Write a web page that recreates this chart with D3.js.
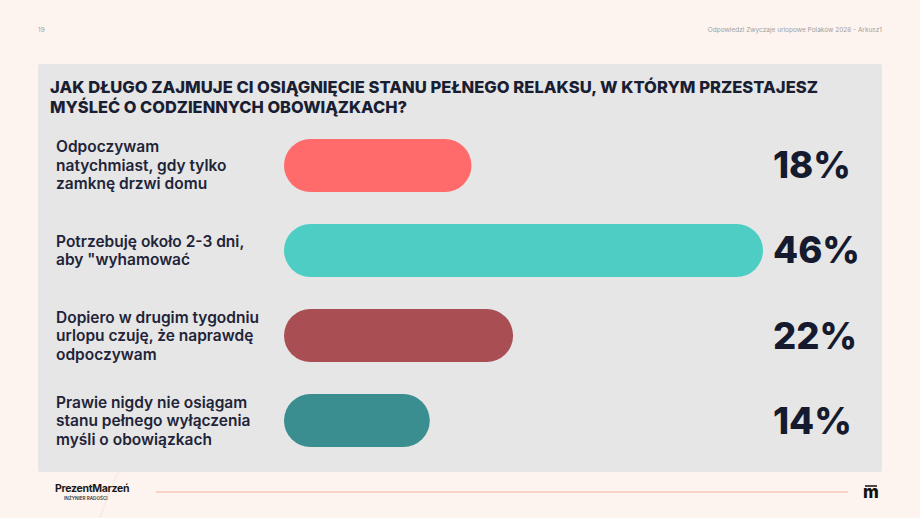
<!DOCTYPE html>
<html>
<head>
<meta charset="utf-8">
<script src="https://cdn.jsdelivr.net/npm/d3@7"></script>
<style>
  html, body { margin: 0; padding: 0; background: #fdf4ef; }
  svg { display: block; font-family: Inter, "Noto Sans", sans-serif; }
</style>
</head>
<body>
<svg id="chart"></svg>
<script>
// chart data
var categories = [
  ["Odpoczywam", "natychmiast, gdy tylko", "zamknę drzwi domu"],
  ["Potrzebuję około 2-3 dni,", "aby \"wyhamować"],
  ["Dopiero w drugim tygodniu", "urlopu czuję, że naprawdę", "odpoczywam"],
  ["Prawie nigdy nie osiągam", "stanu pełnego wyłączenia", "myśli o obowiązkach"]
];
var values = [18, 46, 22, 14];
var colors = ["#ff6b6b", "#4ecdc4", "#a94f54", "#3a8e8f"];
var titleLines = [
  "JAK DŁUGO ZAJMUJE CI OSIĄGNIĘCIE STANU PEŁNEGO RELAKSU, W KTÓRYM PRZESTAJESZ",
  "MYŚLEĆ O CODZIENNYCH OBOWIĄZKACH?"
];

var width = 920,
    height = 518;

var svg = d3.select('#chart')
    .attr('width', width)
    .attr('height', height);

svg.append('rect')
    .attr('width', width)
    .attr('height', height)
    .attr('fill', '#fdf4ef');

// faint decorative curve
svg.append('path')
    .attr('d', 'M100,518 C115,470 140,430 170,400')
    .attr('fill', 'none')
    .attr('stroke', '#f6ebe6')
    .attr('stroke-width', 1.5);

// header
svg.append('text')
    .attr('x', 38).attr('y', 32)
    .attr('font-size', 6.5)
    .attr('fill', '#a0a0a0')
    .text('19');

svg.append('text')
    .attr('x', 882).attr('y', 32)
    .attr('text-anchor', 'end')
    .attr('font-size', 6.5)
    .attr('fill', '#a0a0a0')
    .text('Odpowiedzi Zwyczaje urlopowe Polaków 2026 - Arkusz1');

// panel
svg.append('rect')
    .attr('x', 38).attr('y', 64)
    .attr('width', 844).attr('height', 408)
    .attr('rx', 2)
    .attr('fill', '#e6e6e6');

// title
svg.append('text')
    .attr('x', 50).attr('y', 93)
    .attr('font-size', 16.5)
    .attr('font-weight', 800)
    .attr('fill', '#1a1e33')
    .attr('textLength', 768)
    .attr('lengthAdjust', 'spacingAndGlyphs')
    .text(titleLines[0]);

svg.append('text')
    .attr('x', 50).attr('y', 113)
    .attr('font-size', 16.5)
    .attr('font-weight', 800)
    .attr('fill', '#1a1e33')
    .attr('textLength', 357)
    .attr('lengthAdjust', 'spacingAndGlyphs')
    .text(titleLines[1]);

// scales
var y = d3.scaleBand()
    .domain(d3.range(values.length))
    .range([139, 447])
    .paddingInner(0.378)
    .paddingOuter(0);

var x = d3.scaleLinear()
    .domain([0, 46])
    .range([284, 763]);

var rows = svg.selectAll('g.row')
    .data(values)
    .enter().append('g')
    .attr('class', 'row');

rows.append('rect')
    .attr('x', x(0))
    .attr('y', function(d, i) { return y(i); })
    .attr('width', function(d) { return x(d) - x(0); })
    .attr('height', y.bandwidth())
    .attr('rx', y.bandwidth() / 2)
    .attr('fill', function(d, i) { return colors[i]; });

rows.append('text')
    .attr('x', 773)
    .attr('y', function(d, i) { return y(i) + y.bandwidth() / 2 + 13; })
    .attr('font-size', 36.5)
    .attr('font-weight', 800)
    .attr('fill', '#151a2e')
    .text(function(d) { return d + '%'; });

// category labels, vertically centred on the bar
var lineH = 18.5;
rows.append('text')
    .attr('font-size', 15.5)
    .attr('font-weight', 600)
    .attr('fill', '#1f2438')
    .each(function(d, i) {
      var lines = categories[i];
      var mid = y(i) + y.bandwidth() / 2;
      var first = mid - (lines.length - 1) * lineH / 2 + 5.5;
      d3.select(this).selectAll('tspan')
          .data(lines)
          .enter().append('tspan')
          .attr('x', 56)
          .attr('y', function(l, j) { return first + j * lineH; })
          .text(function(l) { return l; });
    });

// footer
var logo = svg.append('text')
    .attr('x', 55).attr('y', 492)
    .attr('font-size', 10.5)
    .attr('font-weight', 700)
    .attr('letter-spacing', -0.3)
    .attr('fill', '#1a1a1a');
logo.append('tspan').text('Prezent');
logo.append('tspan').text('Marzeń');

svg.append('text')
    .attr('x', 64).attr('y', 499.5)
    .attr('font-size', 4.6)
    .attr('font-weight', 600)
    .attr('fill', '#333')
    .text('INŻYNIER RADOŚCI');

svg.append('line')
    .attr('x1', 156).attr('x2', 848)
    .attr('y1', 492).attr('y2', 492)
    .attr('stroke', '#f8d3c8')
    .attr('stroke-width', 2);

svg.append('text')
    .attr('x', 871).attr('y', 498)
    .attr('text-anchor', 'middle')
    .attr('font-size', 17)
    .attr('font-weight', 800)
    .attr('fill', '#111')
    .text('m');

svg.append('line')
    .attr('x1', 865).attr('x2', 877)
    .attr('y1', 486).attr('y2', 486)
    .attr('stroke', '#111')
    .attr('stroke-width', 1.5);
</script>
</body>
</html>
